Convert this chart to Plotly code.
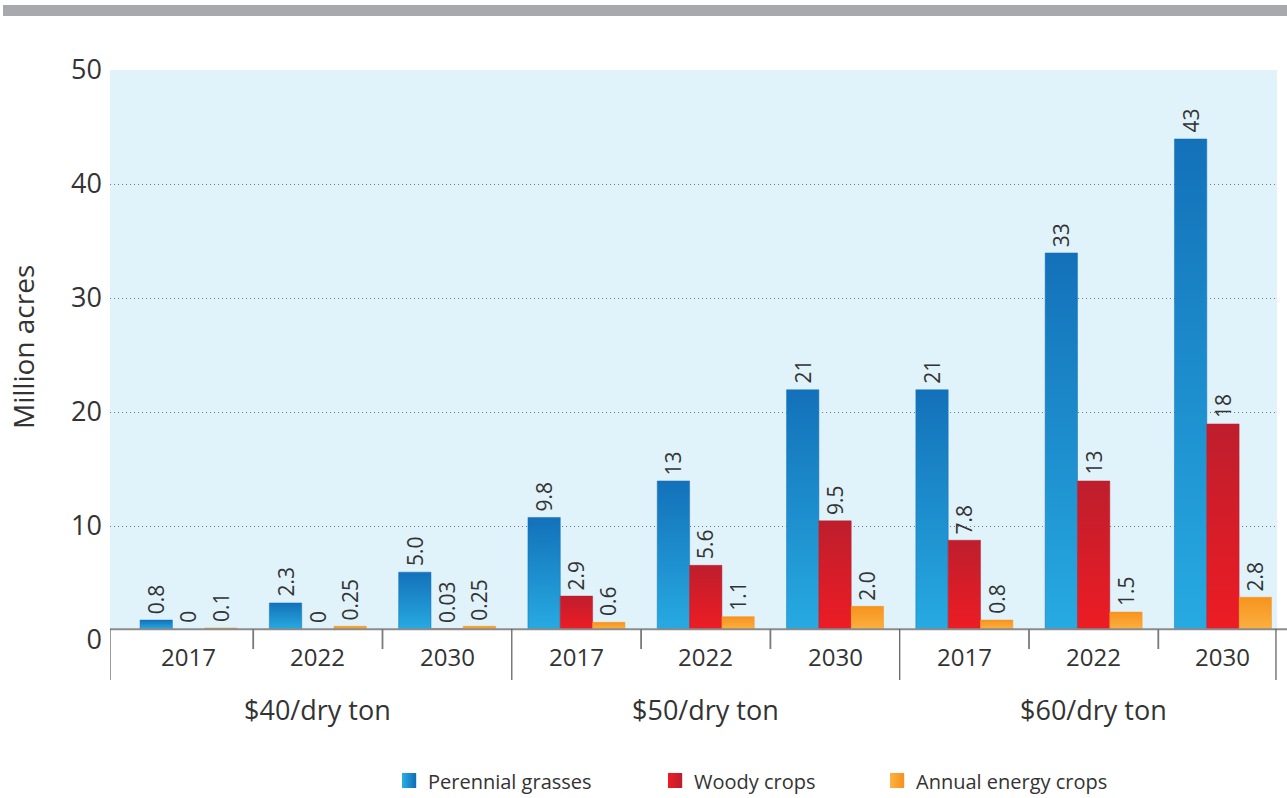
import plotly.graph_objects as go

# ---- data -------------------------------------------------------------
PRICES = ["$40/dry ton", "$50/dry ton", "$60/dry ton"]
YEARS = ["2017", "2022", "2030"]

PERENNIAL = [0.8, 2.3, 5.0, 9.8, 13, 21, 21, 33, 43]
WOODY = [0, 0, 0.03, 2.9, 5.6, 9.5, 7.8, 13, 18]
ANNUAL = [0.1, 0.25, 0.25, 0.6, 1.1, 2.0, 0.8, 1.5, 2.8]

SERIES_NAMES = ["Perennial grasses", "Woody crops", "Annual energy crops"]
Y_TICKS = [0, 10, 20, 30, 40, 50]

# ---- style ------------------------------------------------------------
FONT = "Open Sans"
WEIGHT = 400
TEXT = "#333333"
# (bottom colour, top colour) of each bar gradient
GRADIENTS = [("#27aae1", "#1371b9"), ("#ed1c24", "#be1e2d"), ("#fbb040", "#f7931e")]
PLOT_BG = "#e0f2fa"

W, H = 1287, 798
PLOT_L, PLOT_R, PLOT_T, PLOT_B = 110, 1277, 70, 640
Y_MAX = 50
BASE = 0.95          # the category axis sits slightly above zero
BAR_W = 0.25         # bar width in slot units
SLOT_PX = 129.3
FIRST_SLOT_PX = 123.9
X_LO = (PLOT_L - FIRST_SLOT_PX) / SLOT_PX
X_HI = X_LO + (PLOT_R - PLOT_L) / SLOT_PX


def px_x(px):
    return (px - PLOT_L) / (PLOT_R - PLOT_L)


def px_y(py):
    return (PLOT_B - py) / (PLOT_B - PLOT_T)


def font(size):
    return dict(family=FONT, size=size, color=TEXT, weight=WEIGHT)


def fmt(v):
    if v == 0:
        return "0"
    if v >= 10:
        return f"{v:.0f}"
    return f"{v:.1f}" if round(v, 1) == v else f"{v:.2f}"


def mix(c1, c2, t):
    a = [int(c1[i:i + 2], 16) for i in (1, 3, 5)]
    b = [int(c2[i:i + 2], 16) for i in (1, 3, 5)]
    return "rgb(%d,%d,%d)" % tuple(round(a[k] + (b[k] - a[k]) * t) for k in range(3))


fig = go.Figure()
annotations = []
shapes = []

series = [PERENNIAL, WOODY, ANNUAL]
n_slots = len(PRICES) * len(YEARS)

for s, values in enumerate(series):
    bottom, top = GRADIENTS[s]
    for i, v in enumerate(values):
        cx = i + 0.5 + (s - 1) * BAR_W
        x0, x1 = cx - BAR_W / 2, cx + BAR_W / 2
        if v > 0:
            fig.add_trace(go.Scatter(
                x=[x0, x0, x1, x1, x0],
                y=[BASE, BASE + v, BASE + v, BASE, BASE],
                mode="lines", fill="toself",
                line=dict(width=0.5, color=top),
                fillgradient=dict(type="vertical",
                                  colorscale=[[0, bottom], [1, top]]),
                hoverinfo="skip", showlegend=False,
            ))
        annotations.append(dict(
            x=cx, y=BASE + v, xref="x", yref="y",
            text=fmt(v), textangle=-90, showarrow=False,
            xanchor="center", yanchor="bottom", yshift=4,
            font=font(21),
        ))

# year labels and price groups under the axis
for i in range(n_slots):
    annotations.append(dict(
        x=i + 0.5, y=px_y(656), xref="x", yref="paper",
        text=YEARS[i % len(YEARS)], showarrow=False,
        xanchor="center", yanchor="middle", font=font(24),
    ))
for g, label in enumerate(PRICES):
    annotations.append(dict(
        x=g * len(YEARS) + len(YEARS) / 2, y=px_y(709), xref="x", yref="paper",
        text=label, showarrow=False, xanchor="center", yanchor="middle",
        font=font(27),
    ))

# y-axis title
annotations.append(dict(
    x=px_x(23), y=px_y(347), xref="paper", yref="paper",
    text="Million acres", textangle=-90, showarrow=False,
    xanchor="center", yanchor="middle", font=font(28),
))

# plot background and mask under the category axis
shapes.append(dict(type="rect", xref="x", yref="y", x0=X_LO, x1=X_HI,
                   y0=BASE, y1=Y_MAX, fillcolor=PLOT_BG, line_width=0,
                   layer="below"))
shapes.append(dict(type="rect", xref="x", yref="y", x0=X_LO, x1=X_HI,
                   y0=-1, y1=BASE, fillcolor="white", line_width=0,
                   layer="between"))

# category axis line
shapes.append(dict(type="line", xref="paper", yref="y", x0=0, x1=px_x(W),
                   y0=BASE, y1=BASE, line=dict(color="#8c8c8c", width=2)))

# dividers between years (short) and price groups (long)
for b in range(n_slots + 1):
    x = X_LO if b == 0 else (X_HI - 0.008 if b == n_slots else b)
    long = b % len(YEARS) == 0
    shapes.append(dict(type="line", xref="x", yref="paper", x0=x, x1=x,
                       y0=px_y(629), y1=px_y(680 if long else 649),
                       line=dict(color="#5a5a5a" if long else "#7a7a7a",
                                 width=1.2 if long else 1.8)))

# top rule
shapes.append(dict(type="rect", xref="paper", yref="paper",
                   x0=px_x(3), x1=px_x(W), y0=px_y(16), y1=px_y(5),
                   fillcolor="#a7a9ac", line_width=0))

# legend
legend_sq = [402, 668, 890]
for k, name in enumerate(SERIES_NAMES):
    bottom, top = GRADIENTS[k]
    strips = 7
    for j in range(strips):
        shapes.append(dict(type="rect", xref="paper", yref="paper",
                           x0=px_x(legend_sq[k] + j * 2),
                           x1=px_x(legend_sq[k] + j * 2 + 2.2),
                           y0=px_y(788), y1=px_y(773),
                           fillcolor=mix(bottom, top, j / (strips - 1)),
                           line_width=0))
    annotations.append(dict(
        x=px_x(legend_sq[k] + 24), y=px_y(781), xref="paper", yref="paper",
        text=name, showarrow=False, xanchor="left", yanchor="middle",
        font=font(20),
    ))

fig.update_layout(
    width=W, height=H,
    margin=dict(l=PLOT_L, r=W - PLOT_R, t=PLOT_T, b=H - PLOT_B, autoexpand=False),
    paper_bgcolor="white", plot_bgcolor="white",
    showlegend=False,
    annotations=annotations, shapes=shapes,
    font=dict(family=FONT, color=TEXT),
    xaxis=dict(range=[X_LO, X_HI], showgrid=False, zeroline=False,
               showticklabels=False, showline=False, fixedrange=True),
    yaxis=dict(range=[0, Y_MAX], tickvals=Y_TICKS,
               ticktext=[str(t) for t in Y_TICKS],
               showgrid=True, gridcolor="#77787b", gridwidth=1,
               griddash="1px,3px", zeroline=False, showline=False,
               ticks="", ticklabelstandoff=7,
               tickfont=font(27), fixedrange=True),
)

fig.write_html("out.html")
